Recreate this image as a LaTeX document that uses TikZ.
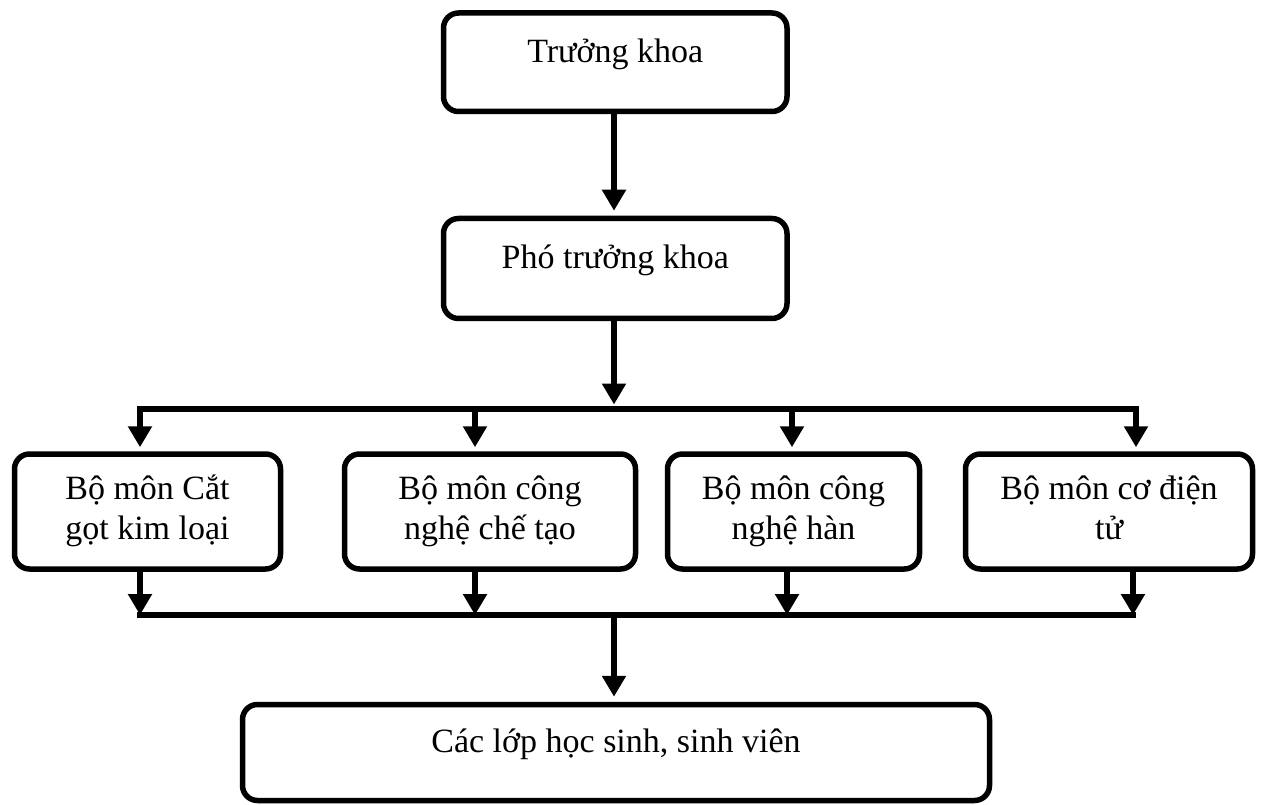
\documentclass[tikz,border=0pt]{standalone}
\usepackage{fontspec}
\setmainfont{Liberation Serif}
\usetikzlibrary{arrows.meta}
\begin{document}
\begin{tikzpicture}[x=1pt,y=-1pt,
  box/.style={draw, line width=5.5pt, rounded corners=15pt, inner sep=0pt,
    font=\fontsize{34}{40}\selectfont},
  one/.style={text height=12pt, text depth=12pt},
  bar/.style={line width=6pt, line cap=rect},
  arr/.style={line width=6pt, -{Triangle[width=23pt,length=21pt]}},
]
\useasboundingbox (0,0) rectangle (1262,805);

% boxes
\node[box, one, minimum width=343.5pt, minimum height=98.5pt] (tk) at (615.25,62.25) {Trưởng khoa};
\node[box, one, minimum width=343.5pt, minimum height=100pt] (ptk) at (615.25,268.5) {Phó trưởng khoa};
\node[box, minimum width=266pt, minimum height=115pt] (b1) at (147.5,511.5)
  {\begin{tabular}{@{}c@{}}Bộ môn Cắt\\gọt kim loại\end{tabular}};
\node[box, minimum width=291pt, minimum height=115pt] (b2) at (490,511.5)
  {\begin{tabular}{@{}c@{}}Bộ môn công\\nghệ chế tạo\end{tabular}};
\node[box, minimum width=252pt, minimum height=115pt] (b3) at (793.5,511.5)
  {\begin{tabular}{@{}c@{}}Bộ môn công\\nghệ hàn\end{tabular}};
\node[box, minimum width=287pt, minimum height=115pt] (b4) at (1109,511.5)
  {\begin{tabular}{@{}c@{}}Bộ môn cơ điện\\tử\end{tabular}};
\node[box, one, minimum width=747pt, minimum height=96pt] (lop) at (616,752.5) {Các lớp học sinh, sinh viên};

% bus coordinates
\coordinate (t1) at (140,408.5);
\coordinate (t2) at (475,408.5);
\coordinate (t3) at (792,408.5);
\coordinate (t4) at (1136,408.5);
\coordinate (tc) at (614,408.5);
\coordinate (u1) at (140,615);
\coordinate (u2) at (475,615);
\coordinate (u3) at (787,615);
\coordinate (u4) at (1133,615);
\coordinate (uc) at (614,615);

% top chain
\draw[arr, shorten >=5pt] (tk.south -| tc) -- (ptk.north -| tc);
\draw[arr, shorten >=4pt] (ptk.south -| tc) -- (tc);

% upper bus
\draw[bar] (t1) -- (t4);
\draw[arr, shorten >=4pt] (t1) -- (t1 |- b1.north);
\draw[arr, shorten >=4pt] (t2) -- (t2 |- b2.north);
\draw[arr, shorten >=4pt] (t3) -- (t3 |- b3.north);
\draw[arr, shorten >=4pt] (t4) -- (t4 |- b4.north);

% lower bus
\draw[bar] (u1) -- (u4);
\draw[arr] (b1.south -| u1) -- (u1);
\draw[arr] (b2.south -| u2) -- (u2);
\draw[arr] (b3.south -| u3) -- (u3);
\draw[arr] (b4.south -| u4) -- (u4);

% to classes
\draw[arr, shorten >=5pt] (uc) -- (lop.north -| uc);
\end{tikzpicture}
\end{document}
